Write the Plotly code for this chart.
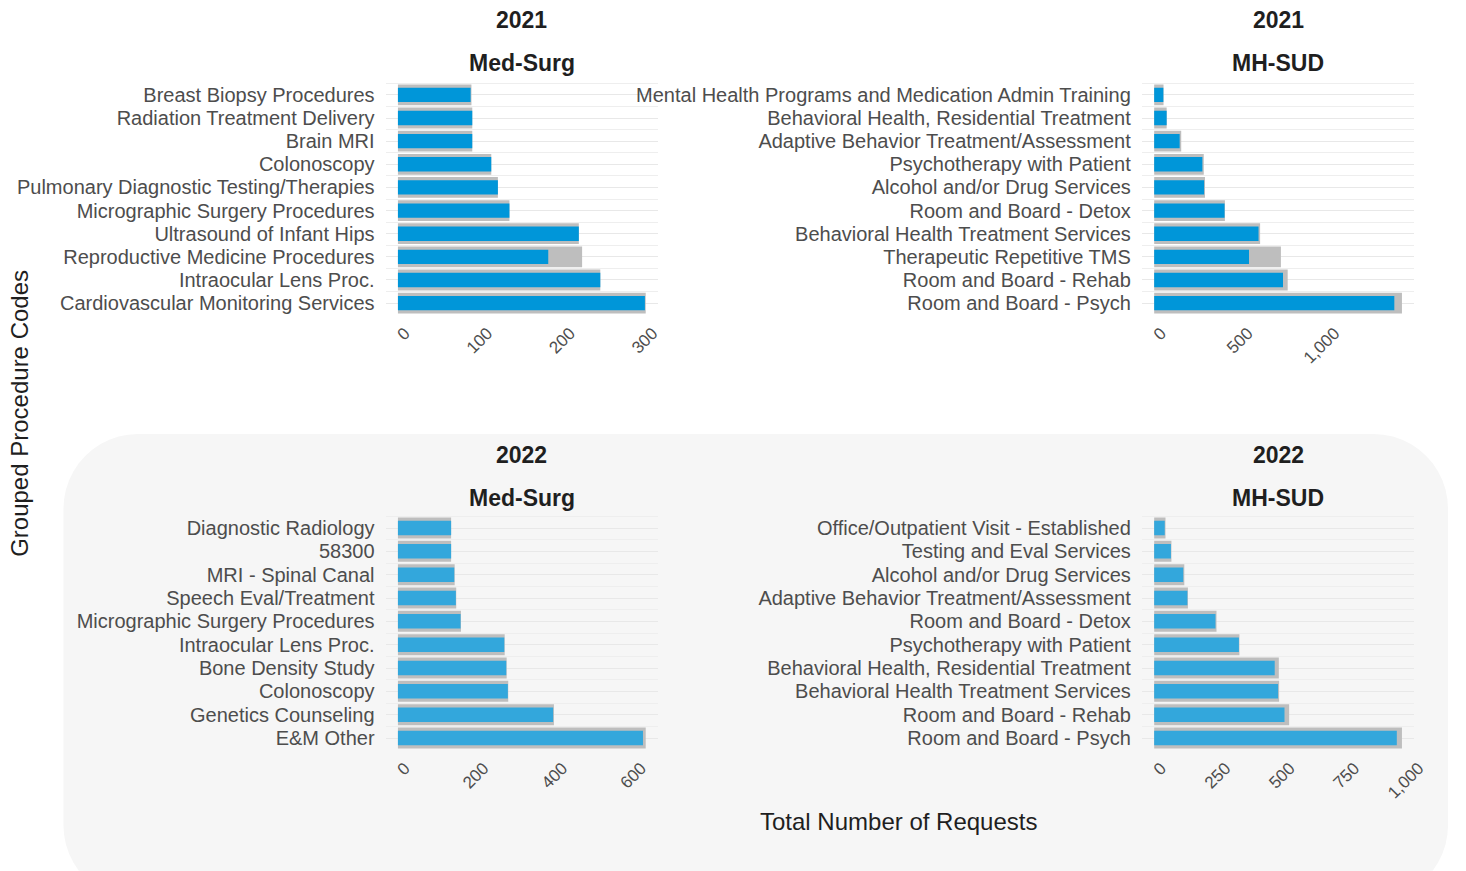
import math
import plotly.graph_objects as go

# ---------------- data ----------------
ms21_cats = ["Breast Biopsy Procedures", "Radiation Treatment Delivery", "Brain MRI", "Colonoscopy",
             "Pulmonary Diagnostic Testing/Therapies", "Micrographic Surgery Procedures",
             "Ultrasound of Infant Hips", "Reproductive Medicine Procedures", "Intraocular Lens Proc.",
             "Cardiovascular Monitoring Services"]
ms21_total = [89, 90, 90, 113, 121, 135, 219, 223, 245, 300]
ms21_approved = [88, 90, 90, 113, 121, 135, 219, 182, 245, 299]

mh21_cats = ["Mental Health Programs and Medication Admin Training", "Behavioral Health, Residential Treatment",
             "Adaptive Behavior Treatment/Assessment", "Psychotherapy with Patient", "Alcohol and/or Drug Services",
             "Room and Board - Detox", "Behavioral Health Treatment Services", "Therapeutic Repetitive TMS",
             "Room and Board - Rehab", "Room and Board - Psych"]
mh21_total = [54, 72, 156, 286, 293, 408, 611, 731, 770, 1429]
mh21_approved = [53, 72, 147, 278, 288, 406, 602, 547, 743, 1385]

ms22_cats = ["Diagnostic Radiology", "58300", "MRI - Spinal Canal", "Speech Eval/Treatment",
             "Micrographic Surgery Procedures", "Intraocular Lens Proc.", "Bone Density Study", "Colonoscopy",
             "Genetics Counseling", "E&M Other"]
ms22_total = [135, 135, 144, 148, 160, 271, 276, 280, 396, 629]
ms22_approved = [135, 135, 143, 147, 159, 270, 275, 279, 394, 622]

mh22_cats = ["Office/Outpatient Visit - Established", "Testing and Eval Services", "Alcohol and/or Drug Services",
             "Adaptive Behavior Treatment/Assessment", "Room and Board - Detox", "Psychotherapy with Patient",
             "Behavioral Health, Residential Treatment", "Behavioral Health Treatment Services",
             "Room and Board - Rehab", "Room and Board - Psych"]
mh22_total = [44, 67, 117, 131, 242, 331, 484, 485, 524, 962]
mh22_approved = [41, 65, 113, 129, 238, 329, 468, 481, 506, 942]

x_ticks_ms21 = [0, 100, 200, 300]
x_ticks_mh21 = [0, 500, 1000]
x_ticks_ms22 = [0, 200, 400, 600]
x_ticks_mh22 = [0, 250, 500, 750, 1000]

# ---------------- layout helpers ----------------
W, H = 1466, 871
FONT = "Liberation Sans, Arial, sans-serif"
GREY = "#bebebe"
BLUE21 = "#0096d9"
BLUE22 = "#33a7dc"
TXT = "#4d4d4d"
DARK = "#1f1f1f"

def px_x(p):
    return p / W

def px_y(p):
    return 1 - p / H

panels = [
    (ms21_cats, ms21_total, ms21_approved, x_ticks_ms21, (389, 664), (81, 317), BLUE21, "2021", "Med-Surg"),
    (mh21_cats, mh21_total, mh21_approved, x_ticks_mh21, (1152, 1427), (81, 317), BLUE21, "2021", "MH-SUD"),
    (ms22_cats, ms22_total, ms22_approved, x_ticks_ms22, (389, 664), (514, 752), BLUE22, "2022", "Med-Surg"),
    (mh22_cats, mh22_total, mh22_approved, x_ticks_mh22, (1152, 1427), (514, 752), BLUE22, "2022", "MH-SUD"),
]

fig = go.Figure()
layout = dict(
    width=W, height=H,
    margin=dict(l=0, r=0, t=0, b=0),
    paper_bgcolor="white",
    plot_bgcolor="rgba(0,0,0,0)",
    barmode="overlay",
    showlegend=False,
    font=dict(family=FONT, color=TXT),
)
annotations = []

for i, (cats, total, appr, ticks, xd, yd, blue, year, group) in enumerate(panels, start=1):
    sfx = "" if i == 1 else str(i)
    pos = list(range(len(cats)))
    fig.add_trace(go.Bar(y=pos, x=total, orientation="h", marker=dict(color=GREY, line=dict(width=0)),
                         width=0.9, xaxis="x" + sfx, yaxis="y" + sfx, name="Total"))
    fig.add_trace(go.Bar(y=pos, x=appr, orientation="h", marker=dict(color=blue, line=dict(width=0)),
                         width=0.62, xaxis="x" + sfx, yaxis="y" + sfx, name="Approved"))
    xmax = max(total)
    layout["xaxis" + sfx] = dict(
        domain=[px_x(xd[0]), px_x(xd[1])], anchor="y" + sfx,
        range=[-0.05 * xmax, 1.05 * xmax],
        tickvals=ticks, tickformat=",", tickangle=-45,
        tickfont=dict(size=17, color=TXT, family=FONT),
        showgrid=False, zeroline=False, showline=False, ticks="",
        ticklabelstandoff=2, ticklabelshift=7,
    )
    layout["yaxis" + sfx] = dict(
        domain=[px_y(yd[1]), px_y(yd[0])], anchor="x" + sfx,
        range=[len(cats) - 0.4, -0.6],
        tickvals=pos, ticktext=cats,
        tickfont=dict(size=20, color=TXT, family=FONT),
        ticklabelstandoff=10,
        showgrid=True, gridcolor="#e8e8e8", gridwidth=1,
        minor=dict(tickvals=[p + 0.5 for p in pos[:-1]] + [-0.5], showgrid=True,
                   gridcolor="#eeeeee", gridwidth=1),
        zeroline=False, showline=False, ticks="",
    )
    cx = px_x((xd[0] + xd[1]) / 2)
    ty = 20 if year == "2021" else 455
    annotations.append(dict(text="<b>%s</b>" % year, x=cx, y=px_y(ty), xref="paper", yref="paper",
                            xanchor="center", yanchor="middle",
                            showarrow=False, font=dict(size=23, color=DARK, family=FONT)))
    annotations.append(dict(text="<b>%s</b>" % group, x=cx, y=px_y(ty + 43), xref="paper", yref="paper",
                            xanchor="center", yanchor="middle",
                            showarrow=False, font=dict(size=23, color=DARK, family=FONT)))

annotations.append(dict(text="Total Number of Requests", x=px_x(907), y=px_y(821), xref="paper", yref="paper",
                        xanchor="center", yanchor="middle",
                        showarrow=False, font=dict(size=24, color=DARK, family=FONT)))
annotations.append(dict(text="Grouped Procedure Codes", x=px_x(19), y=px_y(413), xref="paper", yref="paper",
                        xanchor="center", yanchor="middle",
                        showarrow=False, textangle=-90, font=dict(size=24, color=DARK, family=FONT)))
layout["annotations"] = annotations

# rounded background panel for 2022 row (clipped to the figure area)
x0, x1, y0, y1, r = 64, 1461, 434, 900, 75
pts = []
corners = [(x1 - r, y0 + r, -90, 0), (x1 - r, y1 - r, 0, 90), (x0 + r, y1 - r, 90, 180), (x0 + r, y0 + r, 180, 270)]
for cxp, cyp, a0, a1 in corners:
    for k in range(13):
        a = math.radians(a0 + (a1 - a0) * k / 12)
        px = cxp + r * math.cos(a)
        py = min(cyp + r * math.sin(a), H)
        pts.append("%f,%f" % (px_x(px), px_y(py)))
path = "M " + " L ".join(pts) + " Z"
layout["shapes"] = [dict(type="path", path=path, xref="paper", yref="paper",
                         fillcolor="#f6f6f6", line=dict(width=0), layer="below")]

fig.update_layout(**layout)

POST = (
    "document.documentElement.style.overflow='hidden';"
    "document.body.style.margin='0';"
    "document.body.style.overflow='hidden';"
    "var gds=document.getElementsByClassName('plotly-graph-div');"
    "for(var i=0;i<gds.length;i++){gds[i].style.overflow='hidden';"
    "var ss=gds[i].getElementsByTagName('svg');"
    "for(var j=0;j<ss.length;j++){ss[j].style.overflow='hidden';}}"
)
fig.write_html("out.html", config={"displayModeBar": False}, post_script=POST)
